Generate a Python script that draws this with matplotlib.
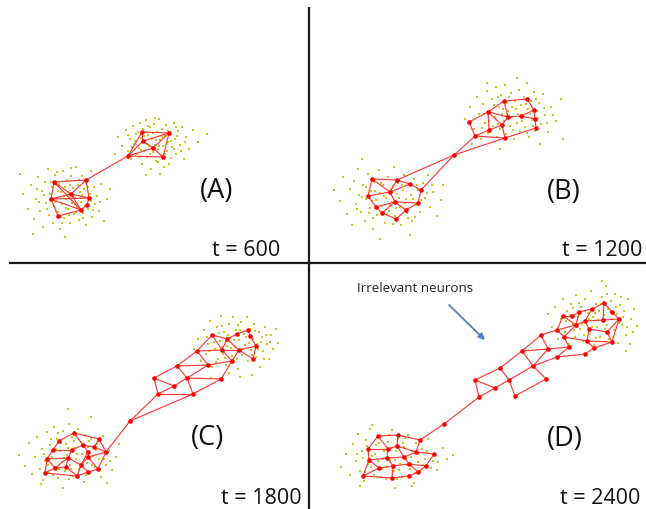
import matplotlib
matplotlib.use("Agg")
import matplotlib.pyplot as plt

# ---------------- data (pixel-space coordinates) ----------------
panel_labels = ["(A)", "(B)", "(C)", "(D)"]
time_labels = ["t = 600", "t = 1200", "t = 1800", "t = 2400"]
annotation_text = "Irrelevant neurons"

# yellow input samples
A_up = [(118,138),(122,147),(126,131),(128,152),(130,140),(131,160),(133,127),(134,145),(136,135),(137,155),
        (139,149),(140,124),(141,139),(142,165),(143,130),(144,152),(145,143),(146,121),(147,158),(148,136),
        (149,147),(150,128),(151,170),(152,140),(153,153),(154,125),(155,146),(156,162),(157,133),(158,150),
        (159,120),(160,141),(161,156),(162,130),(163,147),(164,168),(165,137),(166,126),(167,152),(168,143),
        (170,133),(171,159),(172,148),(174,124),(175,140),(176,155),(178,132),(180,146),(182,128),(184,160),
        (186,138),(189,150),(193,131),(198,143),(207,135),(115,155),(160,175),(146,176),
        (135,142),(138,133),(141,151),(144,137),(147,145),(150,155),(153,134),(156,141),(159,147),(162,138),
        (165,155),(168,132),(171,142),(174,150),(177,137),(148,127),(139,158),(158,163),(169,165),(181,152),
        (185,143),(132,148),(128,136),(155,119),(176,128)]
A_lo = [(23,195),(28,210),(31,186),(34,220),(36,200),(38,178),(40,212),(42,192),(43,228),(45,183),(46,204),
        (48,170),(49,216),(50,195),(52,188),(53,224),(54,207),(55,176),(57,199),(58,213),(59,185),(60,230),
        (61,193),(62,205),(63,172),(64,219),(65,188),(66,200),(67,181),(68,210),(69,195),(70,224),(71,177),
        (72,204),(73,189),(74,215),(75,199),(76,168),(77,208),(78,186),(79,221),(80,193),(81,203),(82,177),
        (83,214),(84,190),(85,199),(86,226),(87,183),(88,210),(90,195),(91,172),(92,218),(94,188),(95,205),
        (97,197),(99,212),(101,185),(104,222),(107,200),(110,190),(33,235),(65,238),(20,175),
        (44,196),(47,210),(51,183),(55,203),(58,192),(61,218),(64,197),(66,209),(70,186),(73,198),(76,213),
        (79,181),(82,196),(85,207),(88,188),(91,202),(56,186),(62,224),(69,216),(75,205),(83,219),(93,211),
        (39,203),(37,190),(100,203),(57,173),(71,169)]
B_up = [(465,120),(470,108),(474,130),(477,98),(479,115),(481,140),(483,105),(485,124),(487,92),(488,134),
        (490,112),(492,100),(493,127),(495,118),(496,88),(497,138),(499,108),(500,130),(501,96),(502,115),
        (504,122),(505,86),(506,135),(507,104),(508,112),(510,127),(511,94),(512,118),(514,140),(515,102),
        (516,110),(517,124),(519,91),(520,132),(521,106),(523,116),(524,98),(525,128),(527,84),(528,110),
        (529,138),(531,102),(532,121),(534,93),(535,132),(537,112),(539,104),(541,125),(543,95),(545,116),
        (548,133),(551,108),(556,122),(561,100),(563,140),(472,145),(500,150),(540,145),(517,79),(487,84),
        (484,115),(489,122),(494,106),(498,125),(503,110),(506,117),(509,98),(513,131),(518,115),(522,122),
        (526,105),(530,115),(533,127),(538,119),(544,109),(491,130),(482,129),(512,108),(527,134),(536,100),
        (547,124),(553,116),(498,98)]
B_lo = [(334,191),(340,202),(343,178),(347,215),(350,190),(352,226),(354,182),(356,205),(358,170),(359,196),
        (361,213),(363,186),(365,222),(366,200),(368,175),(370,209),(371,192),(373,230),(374,183),(376,201),
        (377,216),(379,171),(380,194),(382,207),(383,186),(385,224),(386,199),(388,178),(389,212),(391,190),
        (392,203),(394,168),(395,217),(397,195),(398,184),(400,208),(401,226),(403,191),(404,176),(406,200),
        (407,214),(409,185),(411,196),(412,222),(414,180),(416,206),(418,191),(420,213),(423,184),(425,199),
        (428,176),(430,208),(433,193),(437,217),(441,201),(443,186),(380,240),(362,160),(410,236),
        (362,198),(366,188),(369,214),(372,202),(375,192),(378,208),(381,184),(384,197),(387,215),(390,206),
        (393,187),(396,209),(399,199),(402,186),(405,204),(408,219),(413,200),(417,186),(421,201),(427,194),
        (357,210),(373,219),(393,225),(415,218),(432,186)]
C_up = [(194,350),(198,340),(201,362),(204,331),(206,355),(208,345),(210,322),(212,368),(213,337),(215,350),
        (217,328),(218,360),(220,342),(221,317),(223,355),(224,333),(226,366),(227,347),(229,325),(230,339),
        (232,357),(233,318),(235,348),(236,331),(238,370),(239,341),(241,323),(242,356),(244,335),(245,346),
        (247,318),(248,362),(250,330),(251,351),(253,340),(254,325),(256,358),(257,345),(259,333),(260,368),
        (262,338),(263,352),(265,328),(267,345),(269,360),(271,336),(273,350),(276,330),(278,344),(240,378),
        (252,376),(211,379),(229,374),
        (209,352),(214,343),(219,334),(222,348),(225,359),(228,336),(231,349),(234,341),(237,360),(240,331),
        (243,350),(246,338),(249,344),(252,356),(255,332),(258,350),(261,343),(264,360),(266,336),(216,363),
        (207,338),(238,326),(270,343),(222,327)]
C_lo = [(19,456),(25,467),(29,444),(32,475),(35,458),(37,438),(40,470),(42,450),(43,481),(45,462),(47,433),
        (49,474),(50,446),(52,458),(54,428),(55,468),(57,440),(58,479),(60,452),(62,463),(63,432),(65,472),
        (66,445),(67,456),(69,425),(70,466),(72,438),(73,477),(75,449),(76,460),(78,430),(79,470),(81,443),
        (82,455),(84,483),(85,436),(87,464),(88,448),(90,474),(91,440),(93,457),(95,468),(97,445),(99,460),
        (101,478),(103,437),(106,466),(109,452),(112,471),(116,458),(119,445),(68,410),(91,418),(41,485),
        (63,489),(107,484),
        (44,455),(48,466),(51,440),(56,450),(59,470),(61,444),(64,459),(68,449),(71,470),(74,442),(77,455),
        (80,465),(83,448),(86,458),(89,442),(92,466),(96,451),(100,470),(104,460),(53,476),(69,480),(86,476),
        (74,433),(58,434),(110,462)]
D_up = [(548,315),(552,328),(555,308),(558,340),(561,320),(563,300),(565,333),(567,312),(569,345),(571,305),
        (573,325),(575,338),(576,296),(578,318),(580,330),(581,308),(583,342),(585,300),(586,323),(588,314),
        (590,335),(591,292),(593,318),(594,346),(596,305),(597,328),(599,312),(600,338),(602,298),(603,322),
        (605,330),(606,287),(608,310),(609,340),(611,302),(612,320),(614,331),(615,295),(617,315),(618,344),
        (620,306),(622,326),(624,312),(626,336),(628,300),(631,320),(634,310),(637,327),(602,282),(630,345),
        (626,352),
        (566,322),(570,316),(574,331),(579,304),(582,325),(585,312),(589,320),(592,328),(595,314),(598,321),
        (601,305),(604,316),(607,326),(610,313),(613,338),(616,308),(619,324),(623,318),(627,328),(584,336),
        (596,339),(573,309),(607,295),(621,298),(633,333)]
D_lo = [(341,468),(346,455),(350,476),(353,445),(356,462),(358,435),(360,472),(362,452),(364,482),(366,441),
        (368,465),(370,430),(372,457),(374,476),(376,446),(378,462),(380,437),(382,470),(384,452),(386,480),
        (388,443),(390,461),(392,431),(394,472),(396,452),(398,440),(400,465),(402,478),(404,448),(406,459),
        (408,436),(410,470),(412,452),(414,484),(416,444),(418,463),(420,473),(422,450),(425,460),(428,440),
        (431,469),(434,455),(438,463),(443,449),(447,460),(453,456),(372,426),(360,487),(412,487),(395,489),
        (363,459),(367,447),(371,468),(375,455),(379,444),(383,460),(387,468),(391,449),(395,461),(399,471),
        (403,444),(407,466),(411,458),(415,474),(419,455),(423,466),(427,452),(433,462),(381,478),(397,480),
        (365,473),(389,436),(405,439),(437,471),(357,455)]
samples = [A_up, A_lo, B_up, B_lo, C_up, C_lo, D_up, D_lo]

# red neurons (nodes) and their connections (edges) per panel
A_nodes = [(142,133),(169,134),(143,142),(153,149),(128,157),(163,158),
           (54,183),(86,181),(71,195),(51,200),(89,199),(87,206),(81,211),(58,217)]
A_edges = [(0,1),(0,2),(1,2),(2,3),(1,3),(3,4),(3,5),(4,5),(0,4),(2,4),(1,5),
           (6,7),(6,8),(7,8),(6,9),(9,8),(8,10),(7,10),(9,13),(9,12),(13,12),(12,11),(11,10),(8,12),(9,10),(6,12),
           (7,4)]
B_nodes = [(504,102),(527,100),(534,111),(535,120),(536,129),(521,117),(508,118),(488,113),(469,123),(502,126),
           (489,131),(475,137),(505,139),(454,156),
           (372,180),(397,181),(410,185),(421,191),(368,197),(390,193),(395,203),(418,204),(376,208),(382,214),
           (406,211),(396,220)]
B_edges = [(0,1),(1,2),(2,3),(3,4),(0,7),(0,6),(7,6),(7,8),(7,9),(7,10),(8,11),(10,11),(10,9),(9,6),(9,12),
           (11,12),(12,4),(6,5),(5,2),(5,3),
           (13,11),(13,12),(13,15),(13,17),
           (14,15),(15,16),(16,17),(14,18),(14,19),(15,19),(19,18),(19,20),(18,22),(22,20),(20,21),(17,21),
           (21,24),(24,25),(25,23),(23,20),(22,23),(20,24),(19,16)]
C_nodes = [(248,331),(237,335),(212,336),(227,340),(250,337),(256,347),(239,351),(222,351),(197,352),(253,360),
           (232,362),(208,366),(177,367),(187,379),(221,380),(154,379),(174,387),(193,395),(158,395),
           (130,422),
           (74,434),(59,442),(99,440),(83,446),(94,448),(53,451),(72,451),(88,453),(106,453),(47,460),(68,459),
           (88,458),(81,466),(66,468),(55,469),(98,470),(45,474),(88,473),(77,477)]
C_edges = [(0,1),(1,3),(3,2),(0,4),(4,5),(5,9),(5,6),(6,3),(7,3),(7,2),(7,8),(8,2),(8,12),(7,6),(6,9),(6,10),
           (10,7),(10,11),(11,8),(12,11),(12,13),(11,13),(13,14),(14,10),(12,15),(15,16),(16,13),(13,17),
           (17,14),(16,18),(15,18),(18,17),
           (19,18),(19,17),(19,28),
           (20,21),(20,22),(22,28),(21,25),(20,23),(23,24),(22,24),(23,27),(24,28),(25,26),(26,23),(26,30),
           (25,29),(29,30),(27,31),(31,28),(31,32),(30,32),(30,33),(29,34),(29,36),(34,33),(33,38),(32,38),
           (32,37),(37,35),(35,28),(38,37),(36,34),(36,38),(30,34),(31,35),(27,32)]
D_nodes = [(604,304),(592,310),(579,313),(563,317),(572,317),(612,313),(619,320),(603,321),(585,322),(576,326),
           (557,331),(607,333),(589,330),(564,338),(541,336),(587,342),(612,343),(594,349),(569,348),(548,350),
           (585,355),(557,358),(522,352),(533,367),(500,369),(546,380),(509,381),(475,381),(495,389),(515,397),
           (479,398),
           (444,425),
           (378,437),(398,436),(420,441),(368,450),(388,450),(397,447),(416,453),(434,455),(369,461),(387,459),
           (404,458),(379,469),(393,467),(409,465),(418,473),(426,467),(363,477),(392,479),(409,477)]
D_edges = [(0,1),(1,2),(2,4),(4,3),(0,5),(5,6),(6,16),(0,7),(7,6),(1,8),(8,7),(8,9),(2,9),(9,3),(3,10),(10,9),
           (10,14),(9,13),(13,10),(12,8),(12,11),(11,6),(11,16),(12,15),(15,13),(15,16),(15,17),(17,16),(17,20),
           (20,21),(18,13),(18,19),(18,21),(19,14),(14,22),(22,19),(22,24),(23,19),(23,21),(23,22),(23,25),
           (24,26),(26,23),(25,29),(29,26),(24,27),(27,28),(28,26),(28,30),(27,30),
           (30,31),(31,34),
           (32,33),(33,34),(32,35),(32,36),(33,37),(36,37),(34,38),(37,38),(38,39),(35,40),(35,36),(36,41),
           (40,41),(41,42),(42,38),(37,42),(40,43),(41,44),(43,44),(44,45),(45,42),(45,47),(47,39),(45,46),
           (46,47),(43,48),(48,49),(49,44),(49,50),(50,46),(40,48)]
networks = [(A_nodes, A_edges), (B_nodes, B_edges), (C_nodes, C_edges), (D_nodes, D_edges)]

# ---------------- layout / style ----------------
W, H = 646, 510
fig = plt.figure(figsize=(W / 100, H / 100), dpi=100)
ax = fig.add_axes([0, 0, 1, 1])
ax.set_xlim(0, W)
ax.set_ylim(H, 0)
ax.axis("off")

FONT = ["Open Sans", "DejaVu Sans"]

for pts in samples:
    xs = [p[0] for p in pts]
    ys = [p[1] for p in pts]
    ax.plot(xs, ys, "s", color="#c8c81e", ms=1.8, mew=0, zorder=1)

for nodes, edges in networks:
    for i, j in edges:
        ax.plot([nodes[i][0], nodes[j][0]], [nodes[i][1], nodes[j][1]],
                "-", color="#ff2626", lw=0.85, alpha=0.9, zorder=2, solid_capstyle="round")
    ax.plot([n[0] for n in nodes], [n[1] for n in nodes], "o", color="#ff0000",
            ms=3.3, mew=0, zorder=3)

# divider lines
ax.plot([309, 309], [8, 510], color="#1a1a1a", lw=1.6, zorder=4, solid_capstyle="butt")
ax.plot([9, 646], [264, 264], color="#1a1a1a", lw=1.6, zorder=4, solid_capstyle="butt")

label_pos = [(217, 191), (564, 192), (208, 438), (565, 439)]
time_pos = [(280, 256), (642, 256), (302, 504), (640, 504)]
for lab, (x, y) in zip(panel_labels, label_pos):
    ax.text(x, y, lab, ha="center", va="center", fontsize=19.5, family=FONT, color="#111111")
for lab, (x, y) in zip(time_labels, time_pos):
    ax.text(x, y, lab, ha="right", va="baseline", fontsize=15.5, family=FONT, color="#111111")

ax.text(357, 289, annotation_text, ha="left", va="center", fontsize=9.6, family=FONT, color="#222222")
ax.annotate("", xy=(487, 343), xytext=(447, 304),
            arrowprops=dict(arrowstyle="-|>", color="#4f81bd", lw=1.3, mutation_scale=9))

fig.savefig("out.png", dpi=100)
